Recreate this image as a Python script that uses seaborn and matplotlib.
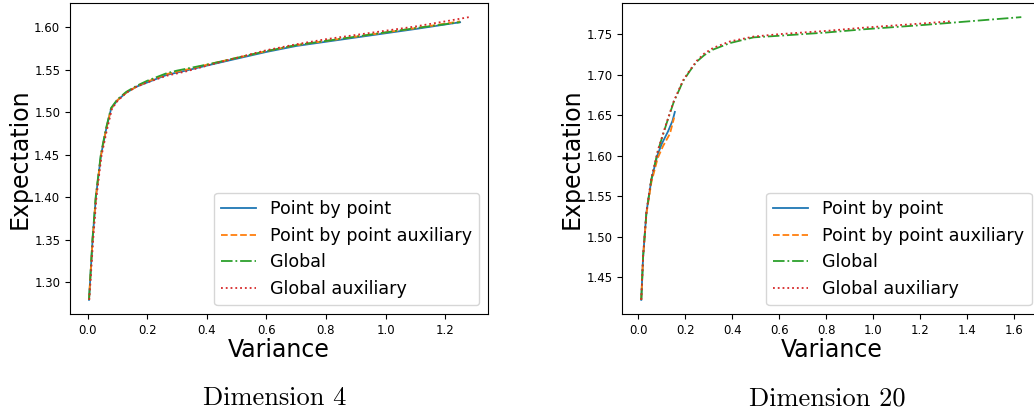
import matplotlib
matplotlib.use("Agg")
import matplotlib.pyplot as plt
import seaborn as sns
import pandas as pd

# Dimension 4 curves (variance, expectation)
d4_pbp_var = [0.005, 0.017, 0.028, 0.045, 0.062, 0.079, 0.10, 0.13, 0.164, 0.20, 0.266, 0.33, 0.413, 0.50, 0.60, 0.70, 0.80, 0.90, 1.00, 1.10, 1.25]
d4_pbp_exp = [1.279, 1.350, 1.400, 1.449, 1.479, 1.504, 1.514, 1.523, 1.530, 1.535, 1.544, 1.549, 1.556, 1.563, 1.571, 1.578, 1.583, 1.588, 1.593, 1.598, 1.606]
d4_pbpa_var = [0.005, 0.017, 0.028, 0.045, 0.062, 0.079, 0.10, 0.13, 0.164, 0.20, 0.266, 0.33, 0.413, 0.50, 0.60, 0.70, 0.80, 0.90, 1.00, 1.10, 1.25]
d4_pbpa_exp = [1.279, 1.350, 1.400, 1.449, 1.479, 1.504, 1.514, 1.523, 1.530, 1.536, 1.545, 1.550, 1.557, 1.564, 1.572, 1.579, 1.584, 1.589, 1.594, 1.599, 1.607]
d4_glob_var = [0.005, 0.017, 0.028, 0.045, 0.062, 0.079, 0.10, 0.13, 0.164, 0.20, 0.266, 0.30, 0.413, 0.50, 0.60, 0.70, 0.80, 0.90, 1.00, 1.10, 1.25]
d4_glob_exp = [1.279, 1.352, 1.402, 1.451, 1.481, 1.505, 1.515, 1.524, 1.531, 1.537, 1.546, 1.549, 1.557, 1.564, 1.572, 1.579, 1.584, 1.589, 1.594, 1.599, 1.606]
d4_globa_var = [0.006, 0.019, 0.030, 0.047, 0.065, 0.082, 0.10, 0.13, 0.164, 0.20, 0.266, 0.33, 0.413, 0.50, 0.60, 0.70, 0.80, 0.90, 1.00, 1.10, 1.20, 1.28]
d4_globa_exp = [1.279, 1.350, 1.400, 1.449, 1.479, 1.504, 1.513, 1.523, 1.530, 1.535, 1.543, 1.548, 1.556, 1.564, 1.573, 1.580, 1.586, 1.591, 1.596, 1.601, 1.607, 1.612]

# Dimension 20 curves
d20_pbp_var = [0.012, 0.020, 0.034, 0.055, 0.080, 0.10, 0.126, 0.145, 0.155]
d20_pbp_exp = [1.422, 1.476, 1.530, 1.570, 1.600, 1.615, 1.630, 1.643, 1.654]
d20_pbpa_var = [0.012, 0.020, 0.034, 0.055, 0.082, 0.105, 0.134, 0.152]
d20_pbpa_exp = [1.422, 1.476, 1.528, 1.567, 1.597, 1.612, 1.627, 1.647]
d20_glob_var = [0.012, 0.020, 0.034, 0.055, 0.084, 0.12, 0.15, 0.19, 0.22, 0.248, 0.28, 0.318, 0.39, 0.49, 0.60, 0.80, 0.96, 1.20, 1.33, 1.50, 1.63]
d20_glob_exp = [1.422, 1.476, 1.530, 1.571, 1.607, 1.640, 1.666, 1.692, 1.705, 1.716, 1.724, 1.731, 1.739, 1.746, 1.748, 1.752, 1.756, 1.761, 1.764, 1.768, 1.771]
d20_globa_var = [0.012, 0.020, 0.034, 0.055, 0.084, 0.12, 0.15, 0.19, 0.22, 0.248, 0.28, 0.318, 0.39, 0.49, 0.60, 0.80, 0.96, 1.20, 1.336]
d20_globa_exp = [1.422, 1.477, 1.531, 1.572, 1.608, 1.641, 1.667, 1.693, 1.706, 1.717, 1.726, 1.733, 1.741, 1.747, 1.750, 1.754, 1.758, 1.763, 1.766]

labels = ["Point by point", "Point by point auxiliary", "Global", "Global auxiliary"]
styles = ["-", "--", "-.", ":"]
colors = ["C0", "C1", "C2", "C3"]

panels = [
    ("Dimension 4", [(d4_pbp_var, d4_pbp_exp), (d4_pbpa_var, d4_pbpa_exp),
                     (d4_glob_var, d4_glob_exp), (d4_globa_var, d4_globa_exp)]),
    ("Dimension 20", [(d20_pbp_var, d20_pbp_exp), (d20_pbpa_var, d20_pbpa_exp),
                      (d20_glob_var, d20_glob_exp), (d20_globa_var, d20_globa_exp)]),
]

fig = plt.figure(figsize=(10.34, 4.15), dpi=100)
axes = [fig.add_axes([0.0677, 0.2434, 0.4043, 0.7494]),
        fig.add_axes([0.6018, 0.2434, 0.4043, 0.7494])]
caption_x = [0.266, 0.80]

for ax, (title, series), cx in zip(axes, panels, caption_x):
    for (xs, ys), lab, ls, col in zip(series, labels, styles, colors):
        df = pd.DataFrame({"Variance": xs, "Expectation": ys})
        sns.lineplot(data=df, x="Variance", y="Expectation", ax=ax, label=lab,
                     color=col, linestyle=ls, linewidth=1.3, sort=False,
                     estimator=None)
    ax.set_xlabel("Variance", fontsize=17, labelpad=1)
    ax.set_ylabel("Expectation", fontsize=17, labelpad=2)
    ax.tick_params(labelsize=8.5)
    ax.legend(loc="lower right", fontsize=12.6, handlelength=2.0)
    fig.text(cx, 0.04, title, ha="center", va="center", fontsize=19,
             family=["cmr10", "DejaVu Serif"])

axes[0].set_yticks([1.30, 1.35, 1.40, 1.45, 1.50, 1.55, 1.60])
axes[1].set_yticks([1.45, 1.50, 1.55, 1.60, 1.65, 1.70, 1.75])

fig.savefig("out.png", dpi=100)
